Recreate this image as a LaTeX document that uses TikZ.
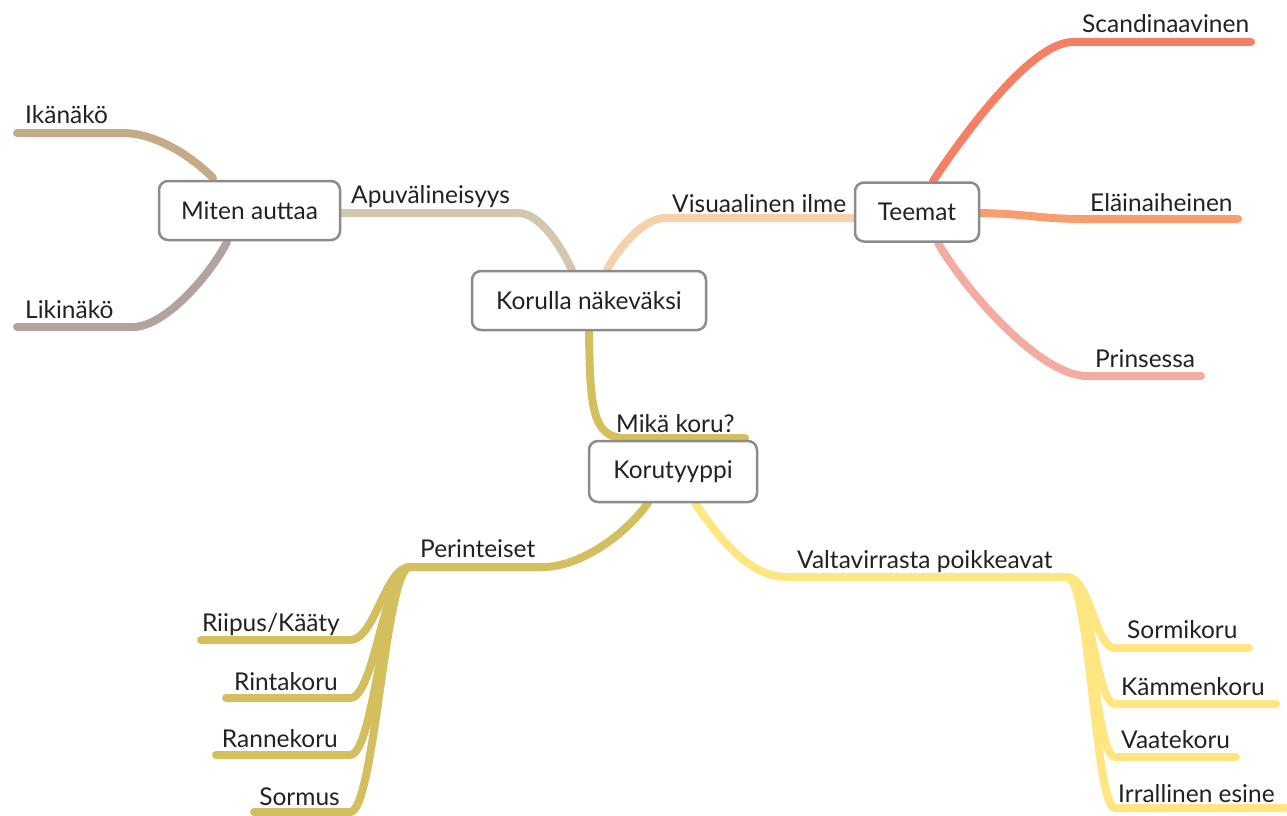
\documentclass[tikz,border=0pt]{standalone}
\usepackage{fontspec}
\setmainfont{Lato}
\usetikzlibrary{backgrounds}
\definecolor{boxgray}{HTML}{8C8C8C}
\definecolor{txt}{HTML}{222222}
\definecolor{cApu}{HTML}{D3C7AE}
\definecolor{cVis}{HTML}{F5D2AC}
\definecolor{cMika}{HTML}{D4BF5F}
\definecolor{cIka}{HTML}{C4AA85}
\definecolor{cLiki}{HTML}{B3A3A0}
\definecolor{cScan}{HTML}{F57F64}
\definecolor{cElain}{HTML}{F79D6F}
\definecolor{cPrin}{HTML}{F4ACA2}
\definecolor{cValta}{HTML}{FFE680}
\begin{document}
\begin{tikzpicture}[x=1pt,y=-1pt,
  topic/.style={draw=boxgray, line width=2.5pt, rounded corners=9pt, fill=white, inner sep=0pt, text=txt, font=\fontsize{24.5}{28}\selectfont},
  lbl/.style={inner sep=0pt, text=txt, font=\fontsize{24.5}{28}\selectfont},
  br/.style={line width=8pt, line cap=round}]
\useasboundingbox (0,0) rectangle (1287,816);
\node[topic, minimum width=234pt, minimum height=59pt] (k0) at (589,300.5) {Korulla näkeväksi};
\node[topic, minimum width=181pt, minimum height=59pt] (k1) at (249.5,210.5) {Miten auttaa};
\node[topic, minimum width=124pt, minimum height=59pt] (k2) at (917,212) {Teemat};
\node[topic, minimum width=168pt, minimum height=61pt] (k3) at (673,471.5) {Korutyyppi};
% branch points
\coordinate (a0) at (572,270);
\coordinate (a1) at (518,213);
\coordinate (v0) at (607,270);
\coordinate (v1) at (665,218);
\coordinate (m1) at (625,438);
\coordinate (m2) at (745,438);
\coordinate (i0) at (213,178);
\coordinate (i1) at (123,133);
\coordinate (i2) at (17,133);
\coordinate (n0) at (227,242);
\coordinate (n1) at (133,327);
\coordinate (n2) at (17,327);
\coordinate (s0) at (933,181);
\coordinate (s1) at (1073,42);
\coordinate (s2) at (1251,42);
\coordinate (e1) at (1083,219);
\coordinate (e2) at (1238,219);
\coordinate (p0) at (938,243);
\coordinate (p1) at (1087,376);
\coordinate (p2) at (1201,376);
\coordinate (r0) at (648,503);
\coordinate (r1) at (543,567);
\coordinate (r2) at (410,567);
\coordinate (t0) at (695,503);
\coordinate (t1) at (787,577);
\coordinate (t2) at (1067,577);
% labels
\node[lbl, anchor=base west] (l1) at (351,203) {Apuvälineisyys};
\node[lbl, anchor=base west] (l2) at (672,212) {Visuaalinen ilme};
\node[lbl, anchor=base west] (l3) at (616,432) {Mikä koru?};
\node[lbl, anchor=base west] (l4) at (25,123) {Ikänäkö};
\node[lbl, anchor=base west] (l5) at (25,318) {Likinäkö};
\node[lbl, anchor=base west] (l6) at (1082,33) {Scandinaavinen};
\node[lbl, anchor=base west] (l7) at (1090,211) {Eläinaiheinen};
\node[lbl, anchor=base west] (l8) at (1095,367) {Prinsessa};
\node[lbl, anchor=base west] (l9) at (420,557) {Perinteiset};
\node[lbl, anchor=base west] (l10) at (797,568) {Valtavirrasta poikkeavat};
\node[lbl, anchor=base east] (l11) at (340,631) {Riipus/Kääty};
\node[lbl, anchor=base east] (l12) at (338,690) {Rintakoru};
\node[lbl, anchor=base east] (l13) at (338,747) {Rannekoru};
\node[lbl, anchor=base east] (l14) at (340,805) {Sormus};
\node[lbl, anchor=base west] (l15) at (1127,638) {Sormikoru};
\node[lbl, anchor=base west] (l16) at (1121,695) {Kämmenkoru};
\node[lbl, anchor=base west] (l17) at (1121,748) {Vaatekoru};
\node[lbl, anchor=base west] (l18) at (1118,802) {Irrallinen esine};
\begin{scope}[on background layer]
\draw[br, cApu] (a0) .. controls +(-12,-25) and +(22,0) .. (a1) -- (k1.east |- a1);
\draw[br, cVis] (v0) .. controls +(13,-25) and +(-20,0) .. (v1) -- (k2.west |- v1);
\draw[br, cMika] (k0.south) .. controls +(1,75) and +(-33,0) .. (m1) -- (m2);
\draw[br, cIka] (i0) .. controls +(-28,-28) and +(27,0) .. (i1) -- (i2);
\draw[br, cLiki] (n0) .. controls +(-17,33) and +(32,0) .. (n1) -- (n2);
\draw[br, cScan] (s0) .. controls +(27,-41) and +(-43,0) .. (s1) -- (s2);
\draw[br, cElain] (k2.east |- 0,213) .. controls +(50,1) and +(-43,0) .. (e1) -- (e2);
\draw[br, cPrin] (p0) .. controls +(27,47) and +(-47,0) .. (p1) -- (p2);
\draw[br, cMika] (r0) .. controls +(-23,32) and +(37,0) .. (r1) -- (r2);
\draw[br, cValta] (t0) .. controls +(25,37) and +(-37,0) .. (t1) -- (t2);
% left leaves
\foreach \yy/\xx in {640/201, 698/226, 755/216, 812/254}
  \draw[br, cMika] (r2) .. controls +(-25,0) and +(25,0) .. (350,\yy) -- (\xx,\yy);
% right leaves
\foreach \yy/\xx in {648/1249, 704/1276, 757/1236, 808/1285}
  \draw[br, cValta] (t2) .. controls +(23,0) and +(-20,0) .. (1115,\yy) -- (\xx,\yy);
\end{scope}
\end{tikzpicture}
\end{document}
